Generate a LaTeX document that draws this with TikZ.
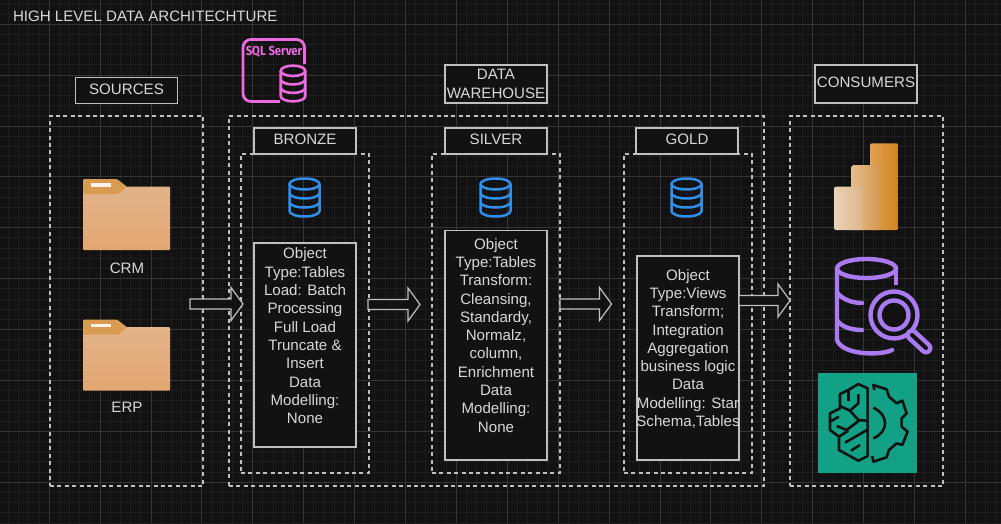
\documentclass[tikz,border=0pt]{standalone}
\usepackage{fontspec}
\setmainfont{Liberation Sans}
\newfontfamily\iconfont{Fira Sans}
\usepackage{tikz}
\usetikzlibrary{calc}
\definecolor{canvas}{HTML}{121212}
\definecolor{gridminor}{HTML}{1D1D1D}
\definecolor{gridmajor}{HTML}{353535}
\definecolor{edge}{HTML}{C0C0C0}
\definecolor{words}{HTML}{D8D8D8}
\definecolor{dbblue}{HTML}{2F8FEA}
\definecolor{sqlpink}{HTML}{EE6AE0}
\definecolor{scanpurple}{HTML}{A97AF0}
\definecolor{foldertop}{HTML}{E2B48A}
\definecolor{folderlow}{HTML}{E3A672}
\definecolor{foldertab}{HTML}{D99B4F}
\definecolor{brainteal}{HTML}{12A185}
\definecolor{talllight}{HTML}{E0A152}
\definecolor{talldark}{HTML}{CE8320}
\definecolor{midlight}{HTML}{E5BC8E}
\definecolor{middark}{HTML}{D39A50}
\definecolor{lowlight}{HTML}{EBD3B5}
\definecolor{lowdark}{HTML}{DDB78C}
\tikzset{
    every node/.style={text=words,font=\fontsize{15.1}{18.3}\selectfont,inner sep=0pt,outer sep=0pt},
    headbox/.style={draw=edge,line width=1.2pt,fill=canvas,minimum width=102pt,align=center},
    headline/.style={headbox,text depth=3.5pt},
    framebox/.style={draw=edge,line width=1.2pt,dash pattern=on 4pt off 3.4pt},
    infobox/.style={draw=edge,line width=1.2pt,fill=canvas,minimum width=102pt,align=center},
    blockarrow/.style={draw=edge,line width=1.2pt,fill=canvas,
        to path={($(\tikztostart)+(0,-5)$) -- ($(\tikztotarget)+(-12,-5)$) -- ($(\tikztotarget)+(-12,-16.5)$)
            -- (\tikztotarget) -- ($(\tikztotarget)+(-12,16.5)$) -- ($(\tikztotarget)+(-12,5)$)
            -- ($(\tikztostart)+(0,5)$) -- cycle}},
    pics/dbicon/.style={code={
        \draw[pic actions] (0,-13.5) ellipse (15 and 5.5);
        \draw[pic actions] (-15,-13.5) -- (-15,13.5) arc[start angle=180,end angle=0,x radius=15,y radius=5.5] -- (15,-13.5);
        \draw[pic actions] (-15,-4.5) arc[start angle=180,end angle=0,x radius=15,y radius=5.5];
        \draw[pic actions] (-15,4.5) arc[start angle=180,end angle=0,x radius=15,y radius=5.5];
    }},
    pics/foldericon/.style={code={
        \shade[top color=foldertop,bottom color=folderlow,rounded corners=1pt] (0,7.7) -- (87,7.7) -- (87,71) -- (0,71) -- cycle;
        \fill[foldertab,rounded corners=1pt] (0,0) -- (34,0) -- (44,7.7) -- (35,15) -- (0,15) -- cycle;
        \fill[white!85!foldertop] (8,4) rectangle (28,7.5);
    }}
}
\begin{document}
\begin{tikzpicture}[x=1pt,y=-1pt]
    \useasboundingbox (0,0) rectangle (1001,523);
    \fill[canvas] (0,0) rectangle (1001,523);
    \foreach \i in {0,...,98} \draw[gridminor,line width=0.6pt] (8.28+10.18*\i,0) -- (8.28+10.18*\i,523);
    \foreach \i in {0,...,51} \draw[gridminor,line width=0.6pt] (0,3.64+10.18*\i) -- (1001,3.64+10.18*\i);
    \foreach \i in {0,...,19} \draw[gridmajor,line width=0.6pt] (49+50.9*\i,0) -- (49+50.9*\i,523);
    \foreach \i in {0,...,9} \draw[gridmajor,line width=0.6pt] (0,24+50.9*\i) -- (1001,24+50.9*\i);

    \node[anchor=west] (title) at (13,16.5) {HIGH LEVEL DATA ARCHITECHTURE};

    \node[framebox,minimum width=153pt,minimum height=370pt] (sourcesframe) at (126.5,301) {};
    \node[framebox,minimum width=535pt,minimum height=370pt] (warehouseframe) at (496.5,301) {};
    \node[framebox,minimum width=153pt,minimum height=370pt] (consumersframe) at (866.5,301) {};
    \node[framebox,minimum width=128pt,minimum height=319pt] (bronzeframe) at (305,313.5) {};
    \node[framebox,minimum width=128pt,minimum height=319pt] (silverframe) at (496,313.5) {};
    \node[framebox,minimum width=128pt,minimum height=319pt] (goldframe) at (688,313.5) {};

    \node[headline,minimum height=26pt] (sources) at (126.5,90.5) {SOURCES};
    \node[headbox,minimum height=38pt] (warehouse) at (496,84) {DATA\\WAREHOUSE};
    \node[headline,minimum height=38pt] (consumers) at (866,84) {CONSUMERS};
    \node[headline,minimum height=26pt] (bronze) at (305,141) {BRONZE};
    \node[headline,minimum height=26pt] (silver) at (496,141) {SILVER};
    \node[headline,minimum height=26pt] (gold) at (687,141) {GOLD};

    \node[infobox,minimum height=204pt] (bronzeinfo) at (305,345) {Object\\Type:Tables\\Load: Batch\\Processing\\Full Load\\Truncate \&\\Insert\\Data\\Modelling:\\None\\\mbox{}};
    \node[infobox,minimum height=229.5pt] (silverinfo) at (496,345.3) {Object\\Type:Tables\\Transform:\\Cleansing,\\Standardy,\\Normalz,\\column,\\Enrichment\\Data\\Modelling:\\None\\[2pt]\mbox{}};
    \node[infobox,minimum height=204pt] (goldinfo) at (688,358) {Object\\Type:Views\\Transform;\\Integration\\Aggregation\\business logic\\Data\\\makebox[100pt][c]{Modelling: Star}\\\makebox[100pt][c]{Schema,Tables}\\[2pt]\mbox{}};

    \pic[draw=dbblue,line width=2.5pt] (bronzedb) at (304.5,197.5) {dbicon};
    \pic[draw=dbblue,line width=2.5pt] (silverdb) at (495.5,197.5) {dbicon};
    \pic[draw=dbblue,line width=2.5pt] (golddb) at (686.5,197.5) {dbicon};

    \pic (crmicon) at (83,179) {foldericon};
    \pic (erpicon) at (83,319.5) {foldericon};
    \node (crm) at (127,268) {CRM};
    \node (erp) at (127,407.5) {ERP};

    \draw[sqlpink,line width=2.8pt,rounded corners=8pt] (304.5,64) -- (304.5,39.5) -- (243,39.5) -- (243,101.5) -- (280,101.5);
    \pic[draw=sqlpink,line width=2.6pt,xscale=0.82,yscale=0.94] (sqldb) at (293,83.5) {dbicon};
    \node[text=sqlpink,xscale=0.87,font=\iconfont\bfseries\fontsize{13}{14}\selectfont] (sqllabel) at (274,51.5) {SQL Server};

    \coordinate (arrowa) at (190,304);
    \coordinate (arrowb) at (243,304);
    \coordinate (arrowc) at (368,304.5);
    \coordinate (arrowd) at (420,304.5);
    \coordinate (arrowe) at (560,304);
    \coordinate (arrowf) at (611.5,304);
    \coordinate (arrowg) at (739,300.5);
    \coordinate (arrowh) at (790,300.5);
    \draw[blockarrow] (arrowa) to (arrowb);
    \draw[blockarrow] (arrowc) to (arrowd);
    \draw[blockarrow] (arrowe) to (arrowf);
    \draw[blockarrow] (arrowg) to (arrowh);

    \shade[left color=talllight,right color=talldark,rounded corners=2pt] (870,143.3) rectangle (898.3,230);
    \shade[left color=midlight,right color=middark,rounded corners=2pt] (851.7,165) rectangle (880,230);
    \shade[left color=lowlight,right color=lowdark,rounded corners=2pt] (834,186.7) rectangle (862.3,230);

    \draw[scanpurple,line width=4.4pt] (866.5,268.5) ellipse (29.5 and 9.5);
    \draw[scanpurple,line width=4.4pt,line cap=round] (837,268.5) -- (837,340) .. controls (842,355) and (880,356) .. (892,350);
    \draw[scanpurple,line width=4.4pt] (896,268.5) -- (896,285);
    \draw[scanpurple,line width=4.4pt,line cap=round] (837,292) .. controls (841,299) and (852,303) .. (862,303);
    \draw[scanpurple,line width=4.4pt,line cap=round] (837,320) .. controls (841,327) and (852,330) .. (862,330);
    \draw[canvas,fill=canvas] (894,315) circle (26);
    \draw[scanpurple,line width=4.4pt] (894,315) circle (23.5);
    \draw[scanpurple,line width=4.4pt] (894,315) circle (14.5);
    \draw[scanpurple,line width=13pt,line cap=round] (912,335) -- (926,348);
    \draw[canvas,line width=4pt,line cap=round] (912,335) -- (926,348);

    \fill[brainteal] (817.7,373.3) rectangle (917,472.7);
    \begin{scope}[shift={(815,370)},x=0.3333pt,y=-0.3333pt,line width=2.6pt,line join=round]
        \draw[canvas] (158,55) -- (130,42) -- (100,60) -- (75,72) -- (75,115) -- (45,130) -- (45,180) -- (72,200) -- (72,240) -- (130,272) -- (158,258) -- cycle;
        \draw[canvas] (100,60) -- (100,92);
        \draw[canvas] (130,72) -- (130,100) -- (105,122) -- (75,108);
        \draw[canvas] (105,122) -- (130,150) -- (155,152);
        \draw[canvas] (45,155) -- (72,140);
        \draw[canvas] (65,168) -- (95,180) -- (132,152);
        \draw[canvas] (72,200) -- (100,182);
        \draw[canvas] (90,218) -- (130,195) -- (156,180);
        \draw[canvas] (108,242) -- (135,225);
        \draw[canvas] (178,60) -- (175,45) -- (215,58) -- (222,80) -- (245,100) -- (262,92) -- (275,130) -- (260,145) -- (260,170) -- (278,185) -- (262,225) -- (245,220) -- (222,240) -- (215,262) -- (175,275) -- (172,258);
        \draw[canvas] (175,113) .. controls (222,135) and (222,185) .. (175,205);
    \end{scope}
\end{tikzpicture}
\end{document}
